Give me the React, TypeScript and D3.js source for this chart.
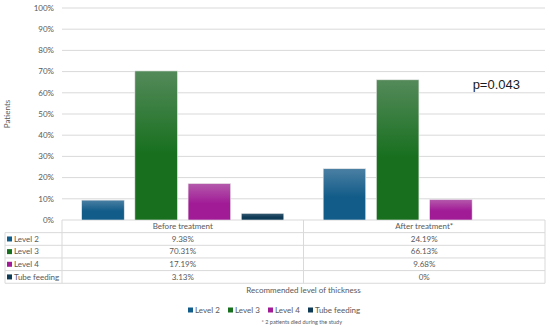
import * as d3 from "d3";

const categories = ["Before treatment", "After treatment*"];
const seriesNames = ["Level 2", "Level 3", "Level 4", "Tube feeding"];
const level2 = [9.38, 24.19];
const level3 = [70.31, 66.13];
const level4 = [17.19, 9.68];
const tubeFeeding = [3.13, 0];
const tableLabels = [
  ["9.38%", "24.19%"],
  ["70.31%", "66.13%"],
  ["17.19%", "9.68%"],
  ["3.13%", "0%"],
];
const yTicks = [0, 10, 20, 30, 40, 50, 60, 70, 80, 90, 100];

const seriesValues = [level2, level3, level4, tubeFeeding];
const colors = ["#125c89", "#18701f", "#a11b97", "#0f3a56"];
const topColors = ["#4b7fa3", "#548a5a", "#b45aab", "#3a5d74"];

const W = 550;
const H = 327;
const left = 62;
const right = 545;
const top = 8;
const bottom = 220;
const tableLeft = 5;
const rowH = 12.65;
const font = "Lato, 'Open Sans', sans-serif";
const grey = "#595959";

export default function App() {
  const x0 = d3.scaleBand<string>().domain(categories).range([left, right]);
  const x1 = d3
    .scaleBand<string>()
    .domain(seriesNames)
    .range([0, x0.bandwidth()])
    .paddingInner(0.2)
    .paddingOuter(0.37);
  const y = d3.scaleLinear().domain([0, 100]).range([bottom, top]);

  const headerBottom = bottom + rowH;
  const tableBottom = headerBottom + rowH * seriesNames.length;

  return (
    <svg
      width={W}
      height={H}
      style={{ position: "absolute", left: 0, top: 0, background: "#fff" }}
      fontFamily={font}
    >
      <defs>
        {colors.map((c, i) => (
          <linearGradient key={i} id={`grad${i}`} x1="0" y1="0" x2="0" y2="1">
            <stop offset="0%" stopColor={topColors[i]} />
            <stop offset="55%" stopColor={c} />
            <stop offset="100%" stopColor={c} />
          </linearGradient>
        ))}
      </defs>

      {/* grid + y ticks */}
      {yTicks.map((t) => (
        <g key={t}>
          <line x1={left} x2={right} y1={y(t)} y2={y(t)} stroke="#d9d9d9" strokeWidth={1} />
          <text x={left - 8} y={y(t)} dy="0.35em" textAnchor="end" fontSize={8} fill={grey}>
            {t}%
          </text>
        </g>
      ))}

      <text
        transform={`translate(10,${(top + bottom) / 2}) rotate(-90)`}
        textAnchor="middle"
        fontSize={8}
        fill={grey}
      >
        Patients
      </text>

      {/* bars */}
      {seriesValues.map((vals, si) =>
        vals.map((v, ci) => {
          const bx = (x0(categories[ci]) ?? 0) + (x1(seriesNames[si]) ?? 0);
          const h = bottom - y(v);
          if (h <= 0) return null;
          return (
            <rect
              key={`${si}-${ci}`}
              x={bx}
              y={y(v)}
              width={x1.bandwidth()}
              height={h}
              fill={`url(#grad${si})`}
              stroke="#e8e8e8"
              strokeWidth={0.6}
            />
          );
        })
      )}

      <text x={520} y={89} textAnchor="end" fontSize={13} fill="#1a1a1a" fontFamily="'Liberation Sans', Arial, sans-serif">
        p=0.043
      </text>

      {/* data table */}
      <g stroke="#d9d9d9" strokeWidth={1} fill="none">
        <line x1={left} x2={left} y1={bottom} y2={tableBottom} />
        <line x1={right} x2={right} y1={bottom} y2={tableBottom} />
        <line x1={x0(categories[1])} x2={x0(categories[1])} y1={bottom} y2={tableBottom} />
        <line x1={tableLeft} x2={tableLeft} y1={headerBottom} y2={tableBottom} />
        {d3.range(seriesNames.length + 1).map((i) => (
          <line
            key={i}
            x1={tableLeft}
            x2={right}
            y1={headerBottom + i * rowH}
            y2={headerBottom + i * rowH}
          />
        ))}
      </g>
      {categories.map((c) => (
        <text
          key={c}
          x={(x0(c) ?? 0) + x0.bandwidth() / 2}
          y={bottom + rowH / 2}
          dy="0.35em"
          textAnchor="middle"
          fontSize={8}
          fill={grey}
        >
          {c}
        </text>
      ))}
      {seriesNames.map((s, si) => {
        const ry = headerBottom + si * rowH + rowH / 2;
        return (
          <g key={s}>
            <rect x={tableLeft + 2} y={ry - 2.5} width={5} height={5} fill={colors[si]} />
            <text x={tableLeft + 9} y={ry} dy="0.35em" fontSize={8} fill={grey}>
              {s}
            </text>
            {categories.map((c, ci) => (
              <text
                key={c}
                x={(x0(c) ?? 0) + x0.bandwidth() / 2}
                y={ry}
                dy="0.35em"
                textAnchor="middle"
                fontSize={8}
                fill={grey}
              >
                {tableLabels[si][ci]}
              </text>
            ))}
          </g>
        );
      })}

      <text x={(left + right) / 2} y={290} dy="0.35em" textAnchor="middle" fontSize={8} fill={grey}>
        Recommended level of thickness
      </text>

      {/* legend */}
      <g transform="translate(188,310)">
        {seriesNames.map((s, i) => {
          const offs = [0, 40, 80, 120];
          return (
            <g key={s} transform={`translate(${offs[i]},0)`}>
              <rect x={0} y={-2.5} width={5} height={5} fill={colors[i]} />
              <text x={7} y={0} dy="0.35em" fontSize={8} fill={grey}>
                {s}
              </text>
            </g>
          );
        })}
      </g>
      <text x={342} y={322} dy="0.35em" textAnchor="end" fontSize={5.5} fill={grey}>
        * 2 patients died during the study
      </text>
    </svg>
  );
}
